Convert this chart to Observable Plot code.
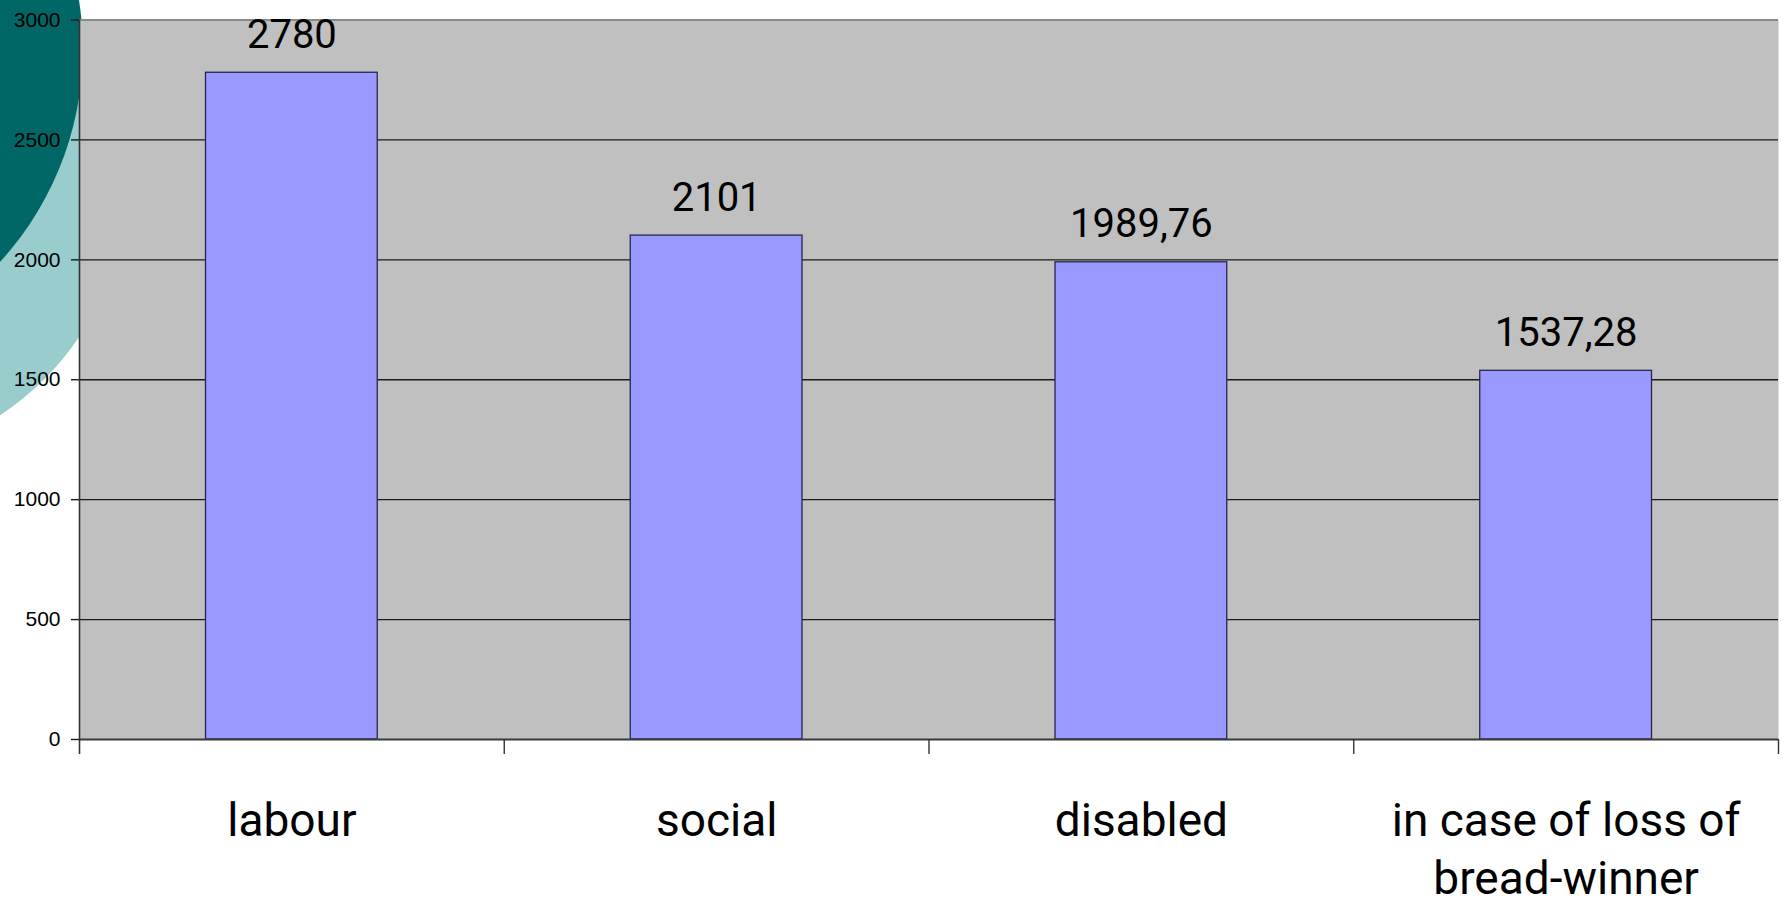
<!DOCTYPE html>
<html>
<head>
<meta charset="utf-8">
<script src="https://cdn.jsdelivr.net/npm/d3@7"></script>
<script src="https://cdn.jsdelivr.net/npm/@observablehq/plot@0.6"></script>
<style>
  html, body { margin: 0; padding: 0; background: #ffffff; }
  #chart { width: 1785px; height: 908px; overflow: hidden; }
</style>
</head>
<body>
<div id="chart"></div>
<script>
// ---- data ----
const categories = ["labour", "social", "disabled", "in case of loss of\nbread-winner"];
const values = [2780, 2101, 1989.76, 1537.28];
const yTicks = [0, 500, 1000, 1500, 2000, 2500, 3000];
const gridValues = [500, 1000, 1500, 2000, 2500];

const W = 1785, H = 908;
const mL = 79, mR = 7, mT = 19.5, mB = 169;
const frameH = H - mT - mB;
const edges = categories.map((d, i) => i).concat([categories.length]);
const fmt = v => String(v).replace(".", ",");

const svg = Plot.plot({
  width: W,
  height: H,
  marginLeft: mL,
  marginRight: mR,
  marginTop: mT,
  marginBottom: mB,
  style: { background: "transparent", overflow: "visible" },
  x: { domain: [0, categories.length], axis: null },
  y: { domain: [0, 3000], axis: null },
  marks: [
    Plot.frame({ fill: "#c0c0c0", stroke: null }),
    Plot.ruleY(gridValues, { stroke: "#1a1a1a", strokeWidth: 1.4 }),
    Plot.ruleY([3000], { stroke: "#8a8a8a", strokeWidth: 2 }),
    Plot.rectY(values, {
      x1: (d, i) => i,
      x2: (d, i) => i + 1,
      y: d => d,
      insetLeft: 126.5,
      insetRight: 126.5,
      fill: "#9999ff",
      stroke: "#262650",
      strokeWidth: 1.3
    }),
    Plot.ruleY([0], { stroke: "#3a3a3a", strokeWidth: 2 }),
    Plot.ruleX([edges[0]], { stroke: "#333", strokeWidth: 1.6, insetBottom: -15 }),
    Plot.ruleX(edges.slice(1), { stroke: "#333", strokeWidth: 1.4, insetTop: frameH, insetBottom: -15 }),
    Plot.axisY({
      ticks: yTicks,
      tickFormat: d => String(d),
      tickSize: 8,
      tickPadding: 11,
      fontSize: 21,
      fontFamily: "Liberation Sans",
      stroke: "#1a1a1a",
      strokeWidth: 1.4
    }),
    Plot.text(values, {
      x: (d, i) => i + 0.5,
      y: d => d,
      text: d => fmt(d),
      dy: -25,
      lineAnchor: "bottom",
      fontSize: 40,
      fontFamily: "Roboto",
      fill: "#000"
    }),
    Plot.text(categories, {
      x: (d, i) => i + 0.5,
      text: d => d,
      frameAnchor: "bottom",
      lineAnchor: "top",
      dy: 55,
      fontSize: 46,
      lineHeight: 1.26,
      fontFamily: "Roboto",
      fill: "#000"
    })
  ]
});

// decorative background circles (template decoration), drawn behind the chart
const s = d3.select(svg);
s.insert("circle", ":first-child")
  .attr("cx", -232.6).attr("cy", 48.9).attr("r", 315.4).attr("fill", "#006666");
s.insert("circle", ":first-child")
  .attr("cx", -158).attr("cy", 177).attr("r", 286).attr("fill", "#99cccc");

document.getElementById("chart").appendChild(svg);
</script>
</body>
</html>
